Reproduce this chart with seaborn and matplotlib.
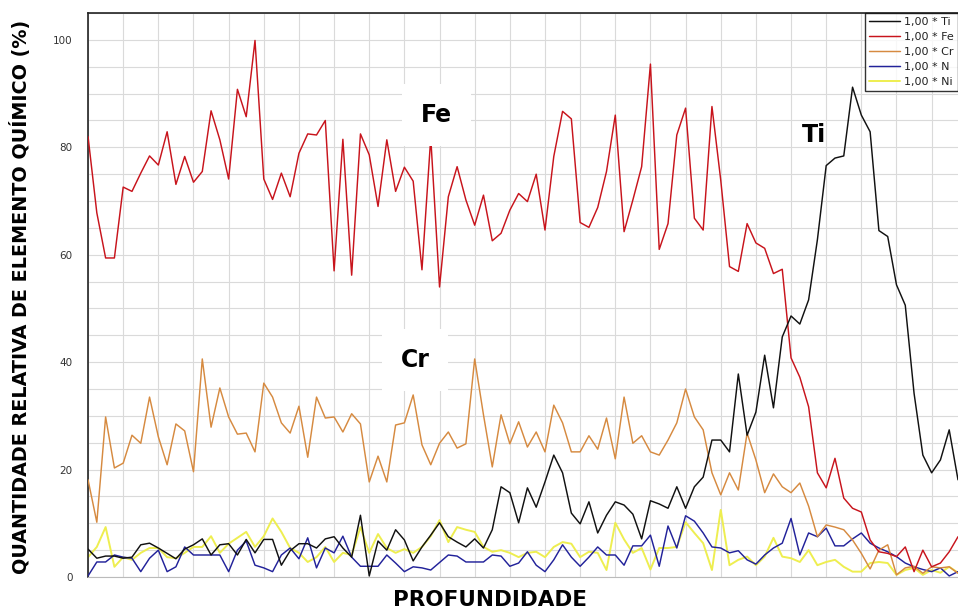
#!/usr/bin/env python
# -*- coding: utf-8 -*-

import numpy as np
import pandas as pd
import matplotlib
matplotlib.use("Agg")
import matplotlib.pyplot as plt
import seaborn as sns

# perfil de profundidade (indice do ponto medido)
profundidade = np.arange(100)

# quantidade relativa (%)
ti = [5.2, 3.5, 3.9, 3.9, 3.5, 3.7, 6.0, 6.3, 5.4, 4.4, 3.4, 5.2, 6.0, 7.1, 4.1, 6.0, 6.2, 4.1, 7.0, 4.5,
      7.0, 7.0, 2.2, 4.9, 6.2, 6.2, 5.4, 7.1, 7.5, 5.4, 3.7, 11.5, 0.2, 6.7,
      5.0, 8.8, 6.9, 3.0, 5.6, 7.8, 10.1, 7.5, 6.5, 5.6, 7.1, 5.4, 8.8, 16.8, 15.7, 10.1, 16.6, 13.0, 17.7,
      22.7, 19.4, 11.9, 9.9, 14.0, 8.2, 11.5, 14.0, 13.4, 11.7, 7.1, 14.2, 13.6, 12.8,
      16.8, 12.8, 16.8, 18.6, 25.5, 25.5, 23.3, 37.8, 26.4, 30.7, 41.3, 31.5, 44.7, 48.6, 47.1, 51.6, 62.8,
      76.6, 78.0, 78.4, 91.2, 86.0, 82.9, 64.5, 63.4, 54.4, 50.6, 34.2, 22.7, 19.4, 21.8, 27.4, 18.1]

fe = [82.0, 67.8, 59.4, 59.4, 72.6, 71.8, 75.2, 78.4, 76.7, 82.9, 73.1, 78.3, 73.5, 75.5, 86.8, 81.4, 74.1,
      90.8, 85.7, 99.9, 74.1, 70.3, 75.2, 70.8, 78.9, 82.5, 82.3, 85.0, 57.0, 81.5, 56.2, 82.5, 78.6, 69.0,
      81.4, 71.8, 76.3, 73.7, 57.2, 81.8, 54.0, 70.8, 76.4, 70.2, 65.5, 71.1, 62.6, 64.0, 68.3, 71.4, 69.9,
      75.0, 64.6, 78.3, 86.7, 85.3, 66.0, 65.1, 68.8, 75.5, 86.0, 64.3, 70.2, 76.4, 95.5, 61.0, 65.8,
      82.3, 87.3, 66.8, 64.6, 87.6, 73.9, 57.8, 56.9, 65.8, 62.2, 61.2, 56.5, 57.3,
      40.8, 37.2, 31.7, 19.4, 16.6, 22.1, 14.7, 12.8, 12.1, 6.9, 4.7, 4.4, 3.8, 5.6, 1.0, 5.0, 1.9, 2.6, 4.7, 7.5]

cr = [18.1, 10.2, 29.8, 20.3, 21.2, 26.4, 24.9, 33.5, 26.1, 20.9, 28.5, 27.2, 19.6, 40.6, 27.9, 35.2, 29.8,
      26.6, 26.8, 23.3, 36.1, 33.5, 28.7, 26.8, 31.8, 22.3, 33.5, 29.6, 29.8, 27.0, 30.4, 28.5, 17.7, 22.5,
      17.7, 28.3, 28.7, 33.9, 24.6, 20.9, 24.9, 27.0, 24.0, 24.8, 40.6, 30.2, 20.5, 30.2, 24.8, 28.9, 24.2,
      27.0, 23.3, 32.0, 28.7, 23.3, 23.3, 26.3, 23.8, 29.6, 22.0, 33.5, 24.9, 26.3, 23.3, 22.7, 25.5,
      28.7, 35.0, 29.8, 27.4, 19.4, 15.3, 19.4, 16.2, 26.8, 21.8, 15.7, 19.2, 16.8, 15.7, 17.5, 13.2, 7.5,
      9.7, 9.3, 8.8, 6.9, 4.4, 1.5, 5.0, 6.0, 0.4, 1.7, 2.0, 0.7, 1.9, 1.7, 1.9, 0.7]

n = [0.2, 2.8, 2.8, 4.1, 3.7, 3.5, 1.0, 3.5, 5.0, 1.0, 1.9, 5.6, 4.1, 4.1, 4.1, 4.1, 1.0, 5.0, 6.7, 2.2,
     1.7, 1.0, 4.1, 5.4, 3.4, 7.3, 1.7, 5.4, 4.5, 7.6, 3.7, 2.0, 2.0, 2.0,
     4.1, 2.6, 1.0, 1.9, 1.7, 1.3, 2.7, 4.1, 3.9, 2.8, 2.8, 2.8, 4.1, 3.9, 2.0, 2.6, 4.7, 2.2, 1.0, 3.2,
     6.0, 3.7, 2.0, 3.7, 5.6, 4.1, 4.1, 2.2, 5.8, 5.8, 7.8, 2.0, 9.5,
     5.4, 11.4, 10.4, 8.2, 5.6, 5.4, 4.5, 4.9, 3.2, 2.4, 4.1, 5.4, 6.3, 10.9, 4.1, 8.2, 7.5, 9.1, 5.8,
     5.8, 7.1, 8.2, 6.3, 5.4, 4.7, 3.8, 2.6, 1.9, 1.4, 1.0, 1.7, 0.2, 1.0]

ni = [3.7, 5.6, 9.3, 1.9, 3.7, 3.2, 4.5, 5.4, 5.4, 3.7, 3.5, 4.5, 5.6, 5.6, 7.6, 4.5, 6.2, 7.3, 8.4, 5.6,
      7.6, 10.9, 8.4, 5.4, 4.5, 2.8, 3.7, 5.6, 2.8, 4.5, 4.1, 9.3, 4.5, 8.0,
      5.4, 4.5, 5.2, 4.5, 5.6, 7.6, 10.6, 6.5, 9.3, 8.8, 8.4, 5.6, 4.7, 5.0, 4.5, 3.7, 4.5, 4.7, 3.7, 5.6,
      6.5, 6.2, 3.7, 4.7, 4.5, 1.3, 10.1, 7.0, 4.5, 5.4, 1.4, 5.4, 5.4,
      5.6, 10.2, 8.2, 6.3, 1.3, 12.5, 2.2, 3.2, 3.8, 2.2, 3.8, 7.3, 3.8, 3.5, 2.8, 5.0, 2.2, 2.8, 3.2,
      1.9, 1.0, 1.0, 2.6, 2.8, 2.6, 0.4, 1.3, 1.7, 0.4, 1.3, 0.8, 1.9, 0.8]

elementos = ["Ti", "Fe", "Cr", "N", "Ni"]
cores = {"Ti": "#111111", "Fe": "#c8141c", "Cr": "#d68a40", "N": "#22229a", "Ni": "#eeee50"}

sns.set_style("white")
plt.rcParams["font.family"] = ["DejaVu Sans"]

fig = plt.figure(figsize=(9.58, 6.13), dpi=100)
ax = fig.add_axes([0.0919, 0.0587, 0.9081, 0.92])

# ordem de desenho: amarelo por baixo, preto por cima
series = {"Ti": ti, "Fe": fe, "Cr": cr, "N": n, "Ni": ni}
ordem_z = {"Ni": 2, "N": 3, "Cr": 4, "Fe": 5, "Ti": 6}
espessura = {"Ti": 1.05, "Fe": 1.05, "Cr": 1.05, "N": 1.05, "Ni": 1.4}
for el in elementos:
    df = pd.DataFrame({"prof": profundidade, "valor": series[el]})
    sns.lineplot(data=df, x="prof", y="valor", color=cores[el], linewidth=espessura[el],
                 label="1,00 * " + el, ax=ax, zorder=ordem_z[el])

ax.set_xlim(0, 99)
ax.set_ylim(0, 105)

# grade: verticais a cada 4 pontos, horizontais a cada 5 %
ax.set_xticks(np.arange(0, 100, 4))
ax.tick_params(axis="x", length=0, labelbottom=False)
ax.set_yticks(np.arange(0, 101, 20))
ax.set_yticks(np.arange(0, 106, 5), minor=True)
ax.tick_params(axis="y", which="major", length=8, width=1, color="#222222",
               labelsize=7.5, labelcolor="#333333", pad=3)
ax.tick_params(axis="y", which="minor", length=4, width=1, color="#222222")
ax.grid(True, which="major", color="#dadada", linewidth=0.8)
ax.grid(True, which="minor", axis="y", color="#dadada", linewidth=0.8)
ax.set_axisbelow(True)
ax.set_xlabel("")
ax.set_ylabel("")

for lado in ["left", "top"]:
    ax.spines[lado].set_color("#222222")
    ax.spines[lado].set_linewidth(1.2)
ax.spines["bottom"].set_color("#bbbbbb")
ax.spines["right"].set_visible(False)

# rotulos dos elementos no grafico
caixa = dict(facecolor="white", edgecolor="none", boxstyle="square,pad=0.8")
ax.text(39.7, 86, "Fe", fontsize=17, fontweight="bold", color="black",
        ha="center", va="center", bbox=caixa, zorder=10)
ax.text(37.2, 40.4, "Cr", fontsize=17, fontweight="bold", color="black",
        ha="center", va="center", bbox=caixa, zorder=10)
ax.text(82.6, 82.3, "Ti", fontsize=17, fontweight="bold", color="black",
        ha="center", va="center", zorder=10)

leg = ax.legend(loc="upper right", fontsize=8, frameon=True, fancybox=False, edgecolor="black",
                borderaxespad=0, handlelength=2.8, labelspacing=0.45, borderpad=0.35,
                handletextpad=0.4)
leg.get_frame().set_linewidth(1.0)
for t in leg.get_texts():
    t.set_color("#222222")

fig.text(0.021, 0.516, "QUANTIDADE RELATIVA DE ELEMENTO QUÍMICO (%)", rotation=90,
         fontsize=13.8, fontweight="bold", color="black", ha="center", va="center")
fig.text(0.511, 0.021, "PROFUNDIDADE", fontsize=15.5, fontweight="bold", color="black",
         ha="center", va="center")

fig.savefig("out.png", dpi=100)
